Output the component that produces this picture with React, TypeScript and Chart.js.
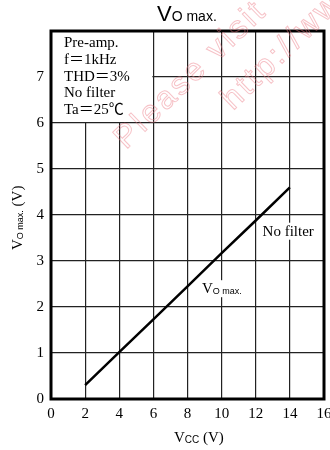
import { useEffect, useRef } from 'react';
import { Chart, registerables } from 'chart.js';

Chart.register(...registerables);

// Supply voltage (V) and maximum output voltage (V)
const vcc = [2, 4, 6, 8, 10, 12, 14];
const voMax = [0.3, 1.02, 1.73, 2.45, 3.17, 3.88, 4.6];

// Axis ranges and tick steps
const xRange = [0, 16];
const yRange = [0, 8];
const xStep = 2;
const yStep = 1;

// Measurement conditions printed in the upper-left box
const conditions = ['Pre-amp.', 'f＝1kHz', 'THD＝3%', 'No filter', 'Ta＝25℃'];
const curveNote = 'No filter';
const watermark = ['Please visit', 'http://www'];

const SERIF = '"Liberation Serif", "Times New Roman", "Noto Sans CJK JP", serif';
const SANS = '"Liberation Sans", Arial, sans-serif';

type Seg = { text: string; font: string; dy?: number };

function drawRich(ctx: CanvasRenderingContext2D, segs: Seg[], x: number, y: number) {
  let cx = x;
  for (const s of segs) {
    ctx.font = s.font;
    ctx.fillText(s.text, cx, y + (s.dy || 0));
    cx += ctx.measureText(s.text).width;
  }
  return cx - x;
}

function richWidth(ctx: CanvasRenderingContext2D, segs: Seg[]) {
  let w = 0;
  for (const s of segs) {
    ctx.font = s.font;
    w += ctx.measureText(s.text).width;
  }
  return w;
}

const decorations = {
  id: 'decorations',
  beforeDatasetsDraw(chart: any) {
    const { ctx, chartArea, scales } = chart;
    const xs = scales.x;
    const ys = scales.y;
    ctx.save();
    // clear the grid behind the conditions box
    const bx1 = xs.getPixelForValue(6);
    const by2 = ys.getPixelForValue(6);
    ctx.fillStyle = '#fff';
    ctx.fillRect(chartArea.left, chartArea.top, bx1 - chartArea.left - 1, by2 - chartArea.top - 1);

    ctx.fillStyle = '#000';
    ctx.textBaseline = 'alphabetic';
    ctx.textAlign = 'left';
    ctx.font = `15px ${SERIF}`;
    conditions.forEach((t, i) => {
      ctx.fillText(t, chartArea.left + 13, chartArea.top + 16 + i * 16.8);
    });

    // "No filter" note with white backing
    ctx.font = `15px ${SERIF}`;
    const nx = xs.getPixelForValue(12.4);
    const ny = ys.getPixelForValue(3.55);
    const nw = ctx.measureText(curveNote).width;
    ctx.fillStyle = '#fff';
    ctx.fillRect(nx - 2, ny - 13, nw + 4, 17);
    ctx.fillStyle = '#000';
    ctx.fillText(curveNote, nx, ny);

    // curve name label
    const segs: Seg[] = [
      { text: 'V', font: `15px ${SERIF}` },
      { text: 'O max.', font: `9px ${SANS}`, dy: 1 },
    ];
    const lx = xs.getPixelForValue(8.85);
    const ly = ys.getPixelForValue(2.3);
    const lw = richWidth(ctx, segs);
    ctx.fillStyle = '#fff';
    ctx.fillRect(lx - 2, ly - 13, lw + 4, 17);
    ctx.fillStyle = '#000';
    drawRich(ctx, segs, lx, ly);
    ctx.restore();
  },
  afterDatasetsDraw(chart: any) {
    const { ctx, chartArea } = chart;
    ctx.save();
    ctx.strokeStyle = '#000';
    ctx.lineWidth = 3;
    ctx.strokeRect(chartArea.left, chartArea.top, chartArea.right - chartArea.left, chartArea.bottom - chartArea.top);
    ctx.restore();
  },
  afterDraw(chart: any) {
    const { ctx, chartArea } = chart;
    ctx.save();
    ctx.fillStyle = '#000';
    ctx.textAlign = 'left';
    ctx.textBaseline = 'alphabetic';

    // chart title
    drawRich(
      ctx,
      [
        { text: 'V', font: `22px ${SANS}` },
        { text: 'O max.', font: `14px ${SANS}` },
      ],
      chartArea.left + 106,
      21
    );

    // x-axis title
    drawRich(
      ctx,
      [
        { text: 'V', font: `15px ${SERIF}` },
        { text: 'CC', font: `10px ${SANS}`, dy: 1 },
        { text: ' (V)', font: `15px ${SERIF}` },
      ],
      174,
      442
    );

    // y-axis title, rotated
    ctx.translate(22, 250);
    ctx.rotate(-Math.PI / 2);
    drawRich(
      ctx,
      [
        { text: 'V', font: `15px ${SERIF}` },
        { text: 'O max.', font: `9px ${SANS}`, dy: 1 },
        { text: ' (V)', font: `15px ${SERIF}` },
      ],
      0,
      0
    );
    ctx.restore();

    // faint diagonal stamp
    ctx.save();
    ctx.strokeStyle = 'rgba(236, 120, 130, 0.45)';
    ctx.lineWidth = 1;
    ctx.font = `32px ${SANS}`;
    (ctx as any).letterSpacing = '3px';
    const ang = (-44 * Math.PI) / 180;
    const origins = [
      [126, 150],
      [233, 111],
    ];
    watermark.forEach((t, i) => {
      ctx.save();
      ctx.translate(origins[i][0], origins[i][1]);
      ctx.rotate(ang);
      ctx.strokeText(t, 0, 0);
      ctx.restore();
    });
    ctx.restore();
  },
};

export default function App() {
  const ref = useRef<HTMLCanvasElement | null>(null);

  useEffect(() => {
    if (!ref.current) return;
    const tickFont = { family: SERIF, size: 15 };
    const gridStyle = { color: '#222', lineWidth: 1.2, drawTicks: false };
    const chart = new Chart(ref.current, {
      type: 'line',
      data: {
        datasets: [
          {
            data: vcc.map((v, i) => ({ x: v, y: voMax[i] })),
            borderColor: '#000',
            borderWidth: 2.5,
            pointRadius: 0,
            tension: 0,
            fill: false,
          },
        ],
      },
      options: {
        responsive: false,
        animation: false,
        devicePixelRatio: 1,
        layout: { padding: { top: 31, right: 6, left: 0, bottom: 0 } },
        plugins: { legend: { display: false }, tooltip: { enabled: false }, title: { display: false } },
        scales: {
          x: {
            type: 'linear',
            min: xRange[0],
            max: xRange[1],
            ticks: { stepSize: xStep, font: tickFont, color: '#000', padding: 6, maxRotation: 0 },
            grid: gridStyle,
            border: { display: false },
            afterFit(scale: any) {
              scale.height = 51;
              scale.paddingLeft = 0;
              scale.paddingRight = 0;
            },
          },
          y: {
            min: yRange[0],
            max: yRange[1],
            ticks: {
              stepSize: yStep,
              font: tickFont,
              color: '#000',
              padding: 7,
              callback: (v: any) => (v === yRange[1] ? '' : String(v)),
            },
            grid: gridStyle,
            border: { display: false },
            afterFit(scale: any) {
              scale.width = 51;
              scale.paddingTop = 0;
              scale.paddingBottom = 0;
            },
          },
        },
      } as any,
      plugins: [decorations],
    });
    return () => chart.destroy();
  }, []);

  return (
    <div style={{ position: 'absolute', left: 0, top: 0, width: 330, height: 450, background: '#fff' }}>
      <canvas ref={ref} width={330} height={450} />
    </div>
  );
}
